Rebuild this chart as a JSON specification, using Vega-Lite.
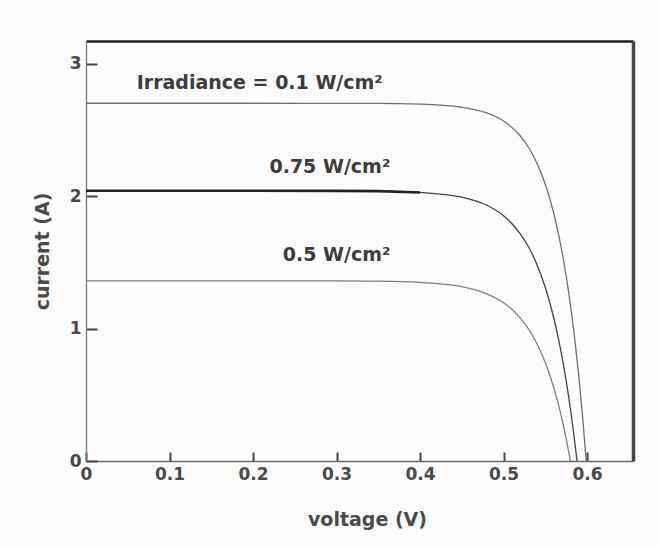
{
  "$schema": "https://vega.github.io/schema/vega-lite/v6.json",
  "width": 547,
  "height": 420,
  "autosize": {"type": "none"},
  "padding": {"left": 86, "top": 41, "right": 27, "bottom": 87},
  "background": "#fcfcfc",
  "config": {
    "view": {"stroke": null},
    "axis": {"grid": false, "labelFont": "DejaVu Sans", "labelFontWeight": "bold", "labelColor": "#4a4a4a", "titleFont": "DejaVu Sans", "titleFontWeight": "bold", "titleColor": "#4a4a4a", "labelFlush": false, "labelOverlap": false, "labelBound": false}
  },
  "datasets": {
    "curves": [
      {"series": "0.1", "V": 0, "I": 2.70},
      {"series": "0.1", "V": 0.1, "I": 2.70},
      {"series": "0.1", "V": 0.2, "I": 2.70},
      {"series": "0.1", "V": 0.3, "I": 2.699},
      {"series": "0.1", "V": 0.35, "I": 2.699},
      {"series": "0.1", "V": 0.4, "I": 2.694},
      {"series": "0.1", "V": 0.45, "I": 2.670},
      {"series": "0.1", "V": 0.48, "I": 2.627},
      {"series": "0.1", "V": 0.5, "I": 2.566},
      {"series": "0.1", "V": 0.52, "I": 2.453},
      {"series": "0.1", "V": 0.53, "I": 2.366},
      {"series": "0.1", "V": 0.54, "I": 2.248},
      {"series": "0.1", "V": 0.55, "I": 2.089},
      {"series": "0.1", "V": 0.56, "I": 1.872},
      {"series": "0.1", "V": 0.565, "I": 1.736},
      {"series": "0.1", "V": 0.57, "I": 1.579},
      {"series": "0.1", "V": 0.575, "I": 1.395},
      {"series": "0.1", "V": 0.58, "I": 1.182},
      {"series": "0.1", "V": 0.585, "I": 0.933},
      {"series": "0.1", "V": 0.59, "I": 0.645},
      {"series": "0.1", "V": 0.595, "I": 0.308},
      {"series": "0.1", "V": 0.599, "I": 0},
      {"series": "0.75", "V": 0, "I": 2.04},
      {"series": "0.75", "V": 0.1, "I": 2.04},
      {"series": "0.75", "V": 0.2, "I": 2.04},
      {"series": "0.75", "V": 0.3, "I": 2.039},
      {"series": "0.75", "V": 0.35, "I": 2.037},
      {"series": "0.75", "V": 0.4, "I": 2.027},
      {"series": "0.75", "V": 0.45, "I": 1.991},
      {"series": "0.75", "V": 0.48, "I": 1.930},
      {"series": "0.75", "V": 0.5, "I": 1.851},
      {"series": "0.75", "V": 0.52, "I": 1.715},
      {"series": "0.75", "V": 0.53, "I": 1.615},
      {"series": "0.75", "V": 0.54, "I": 1.482},
      {"series": "0.75", "V": 0.55, "I": 1.309},
      {"series": "0.75", "V": 0.56, "I": 1.083},
      {"series": "0.75", "V": 0.565, "I": 0.945},
      {"series": "0.75", "V": 0.57, "I": 0.786},
      {"series": "0.75", "V": 0.575, "I": 0.604},
      {"series": "0.75", "V": 0.58, "I": 0.396},
      {"series": "0.75", "V": 0.584, "I": 0.209},
      {"series": "0.75", "V": 0.588, "I": 0},
      {"series": "0.5", "V": 0, "I": 1.36},
      {"series": "0.5", "V": 0.1, "I": 1.36},
      {"series": "0.5", "V": 0.2, "I": 1.36},
      {"series": "0.5", "V": 0.3, "I": 1.359},
      {"series": "0.5", "V": 0.35, "I": 1.357},
      {"series": "0.5", "V": 0.4, "I": 1.348},
      {"series": "0.5", "V": 0.45, "I": 1.316},
      {"series": "0.5", "V": 0.48, "I": 1.262},
      {"series": "0.5", "V": 0.5, "I": 1.194},
      {"series": "0.5", "V": 0.52, "I": 1.080},
      {"series": "0.5", "V": 0.53, "I": 0.995},
      {"series": "0.5", "V": 0.54, "I": 0.885},
      {"series": "0.5", "V": 0.55, "I": 0.742},
      {"series": "0.5", "V": 0.56, "I": 0.557},
      {"series": "0.5", "V": 0.565, "I": 0.444},
      {"series": "0.5", "V": 0.57, "I": 0.315},
      {"series": "0.5", "V": 0.575, "I": 0.168},
      {"series": "0.5", "V": 0.58, "I": 0}
    ],
    "labels": [
      {"label": "Irradiance = 0.1 W/cm²", "V": 0.208, "I": 2.85},
      {"label": "0.75 W/cm²", "V": 0.292, "I": 2.22},
      {"label": "0.5 W/cm²", "V": 0.300, "I": 1.555}
    ]
  },
  "layer": [
    {
      "data": {"name": "curves"},
      "mark": {"type": "line", "interpolate": "monotone", "strokeWidth": 1.3},
      "encoding": {
        "x": {"field": "V", "type": "quantitative", "scale": {"domain": [0, 0.655], "nice": false, "zero": false},
          "axis": {"orient": "bottom", "title": "voltage (V)", "values": [0, 0.1, 0.2, 0.3, 0.4, 0.5, 0.6], "format": "~g", "ticks": true, "tickSize": -9, "tickWidth": 2, "tickColor": "#444", "domainColor": "#666", "domainWidth": 1.5, "labelFontSize": 17, "labelPadding": 14, "titleFontSize": 19, "titleX": 281, "titleY": 64, "titleBaseline": "alphabetic"}},
        "y": {"field": "I", "type": "quantitative", "scale": {"domain": [0, 3.17], "nice": false, "zero": false},
          "axis": {"orient": "left", "title": "current (A)", "values": [0, 1, 2, 3], "format": "~g", "ticks": true, "tickSize": -11, "tickWidth": 2, "tickColor": "#444", "domainColor": "#777", "domainWidth": 1.3, "labelFontSize": 17, "labelPadding": 16, "titleFontSize": 19, "titleX": -44, "titleY": 210, "titleAngle": -90, "titleAlign": "center", "titleBaseline": "middle"}},
        "detail": {"field": "series"},
        "color": {"field": "series", "type": "nominal", "legend": null, "scale": {"domain": ["0.1", "0.75", "0.5"], "range": ["#707070", "#444444", "#808080"]}}
      }
    },
    {
      "data": {"name": "curves"},
      "transform": [{"filter": "datum.series == '0.75' && datum.V <= 0.4"}],
      "mark": {"type": "line", "strokeWidth": 2.6, "color": "#222222"},
      "encoding": {
        "x": {"field": "V", "type": "quantitative", "axis": {"orient": "top", "title": null, "labels": false, "ticks": false, "domainColor": "#222", "domainWidth": 2.5}},
        "y": {"field": "I", "type": "quantitative", "axis": {"orient": "right", "title": null, "labels": false, "ticks": false, "domainColor": "#444", "domainWidth": 3.5}}
      }
    },
    {
      "data": {"name": "labels"},
      "mark": {"type": "text", "font": "DejaVu Sans", "fontWeight": "bold", "fontSize": 19, "color": "#3c3c3c", "align": "center", "baseline": "middle"},
      "encoding": {
        "x": {"field": "V", "type": "quantitative", "axis": null},
        "y": {"field": "I", "type": "quantitative", "axis": null},
        "text": {"field": "label"}
      }
    }
  ]
}
